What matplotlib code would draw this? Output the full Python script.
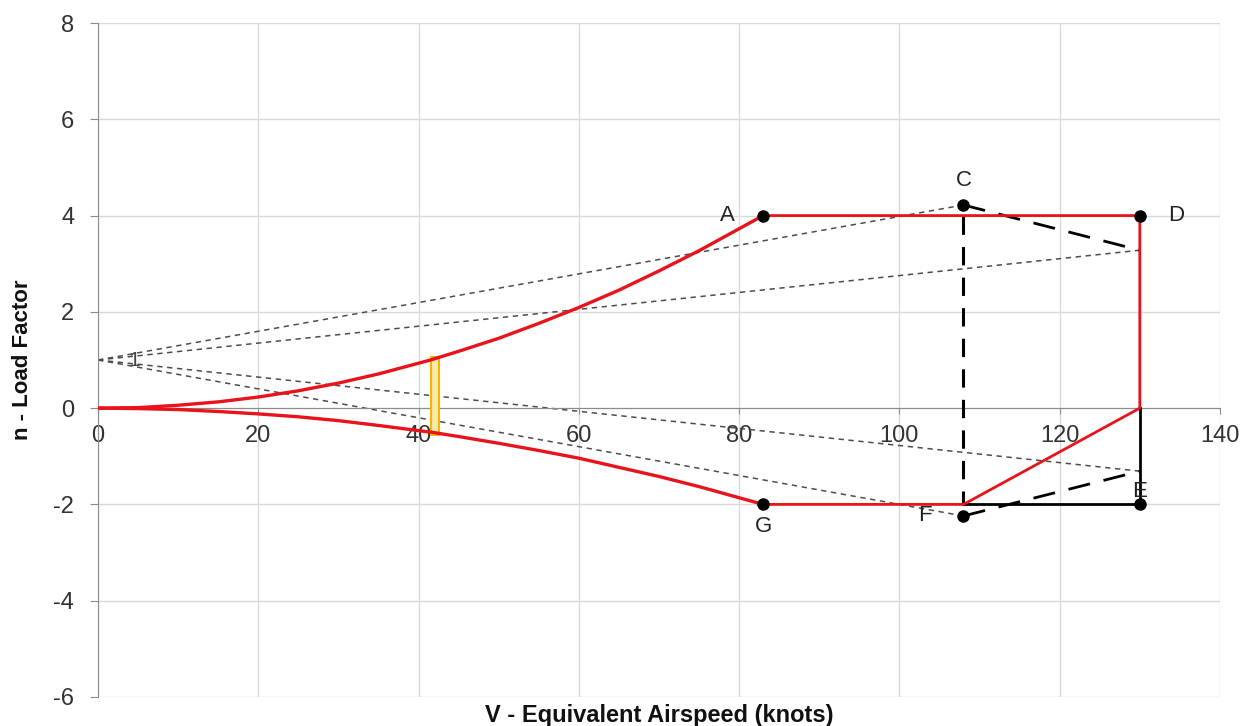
import matplotlib.pyplot as plt
from matplotlib.patches import Rectangle

plt.rcParams['font.family'] = ['Liberation Sans', 'DejaVu Sans']
plt.rcParams['axes.unicode_minus'] = False

# stall boundaries (positive and negative)
v_pos = [0, 5, 10, 15, 20, 25, 30, 35, 41.5, 45, 50, 55, 60, 65, 70, 75, 83]
n_pos = [0, 0.01, 0.06, 0.13, 0.23, 0.36, 0.52, 0.71, 1.0, 1.18, 1.45, 1.76, 2.09, 2.45, 2.85, 3.27, 4.0]
v_neg = [0, 5, 10, 15, 20, 25, 30, 35, 42, 45, 50, 55, 60, 65, 70, 75, 83]
n_neg = [0, -0.01, -0.03, -0.07, -0.12, -0.18, -0.26, -0.36, -0.51, -0.59, -0.73, -0.88, -1.04, -1.23, -1.42, -1.63, -2.0]

# manoeuvre envelope corners
pt_names = ['A', 'C', 'D', 'E', 'F', 'G']
pt_v = [83, 108, 130, 130, 108, 83]
pt_n = [4.0, 4.22, 4.0, -2.0, -2.24, -2.0]

# gust lines from n = 1
gust_v = [[0, 108], [0, 130], [0, 130], [0, 108]]
gust_n = [[1, 4.22], [1, 3.28], [1, -1.31], [1, -2.24]]

# stall speed band
vs_band = [41.55, 42.5]
vs_n = [-0.56, 1.06]

fig = plt.figure(figsize=(12.56, 7.26), dpi=100)
ax = fig.add_axes([0.078, 0.04, 0.8933, 0.9283])

for gv, gn in zip(gust_v, gust_n):
    ax.plot(gv, gn, color='#4d4d4d', lw=1.1, ls=(0, (3.5, 3)), zorder=2)

# gust envelope (black dashed)
ax.plot([pt_v[1], gust_v[1][1]], [pt_n[1], gust_n[1][1]], color='black', lw=2, ls=(0, (8, 5)), zorder=3)
ax.plot([pt_v[4], gust_v[2][1]], [pt_n[4], gust_n[2][1]], color='black', lw=2, ls=(0, (8, 5)), zorder=3)
ax.plot([pt_v[1], pt_v[1]], [pt_n[2], -2.0], color='black', lw=2.2, ls=(0, (6, 4)), zorder=3)

# black closing segments
ax.plot([108, 130, 130], [-2, -2, 0], color='black', lw=2, zorder=3)

ax.add_patch(Rectangle((vs_band[0], vs_n[0]), vs_band[1] - vs_band[0], vs_n[1] - vs_n[0],
                       facecolor='#fde9a8', edgecolor='#f2b705', lw=1.5, zorder=4))

red = '#e8131b'
ax.plot(v_pos, n_pos, color=red, lw=2.4, zorder=5)
ax.plot(v_neg, n_neg, color=red, lw=2.4, zorder=5)
ax.plot([83, 130, 130, 108, 83], [4, 4, 0, -2, -2], color=red, lw=2, zorder=5)

ax.plot(pt_v, pt_n, 'o', color='black', ms=8, zorder=6, ls='none')

offsets = {'A': (-3.5, 0, 'right', 'center'), 'C': (0, 0.3, 'center', 'bottom'),
           'D': (3.5, 0, 'left', 'center'), 'E': (0, 0.05, 'center', 'bottom'),
           'F': (-4, 0, 'right', 'center'), 'G': (0, -0.25, 'center', 'top')}
for name, v, n in zip(pt_names, pt_v, pt_n):
    dx, dy, ha, va = offsets[name]
    ax.text(v + dx, n + dy, name, ha=ha, va=va, fontsize=16, color='#222222', zorder=7)
ax.text(4.5, 0.98, '1', ha='center', va='center', fontsize=15, color='#444444', zorder=7)

ax.set_xlim(0, 140)
ax.set_ylim(-6, 8)
ax.set_xticks(range(0, 141, 20))
ax.set_yticks(range(-6, 9, 2))
ax.grid(True, color='#d9d9d9', lw=1)
ax.set_axisbelow(True)
for s in ['top', 'right']:
    ax.spines[s].set_visible(False)
ax.spines['bottom'].set_position(('data', 0))
ax.spines['bottom'].set_color('#8c8c8c')
ax.spines['left'].set_color('#8c8c8c')
ax.tick_params(axis='both', labelsize=17, colors='#8c8c8c', labelcolor='#333333')
ax.tick_params(axis='y', length=6, pad=11)
ax.tick_params(axis='x', length=4, pad=8)

fig.text(0.525, 0.015, 'V - Equivalent Airspeed (knots)', ha='center', va='center',
         fontsize=17, fontweight='bold', color='#111111')
fig.text(0.018, 0.505, 'n - Load Factor', ha='center', va='center', rotation=90,
         fontsize=16, fontweight='bold', color='#111111')

fig.savefig('out.png', dpi=100)
